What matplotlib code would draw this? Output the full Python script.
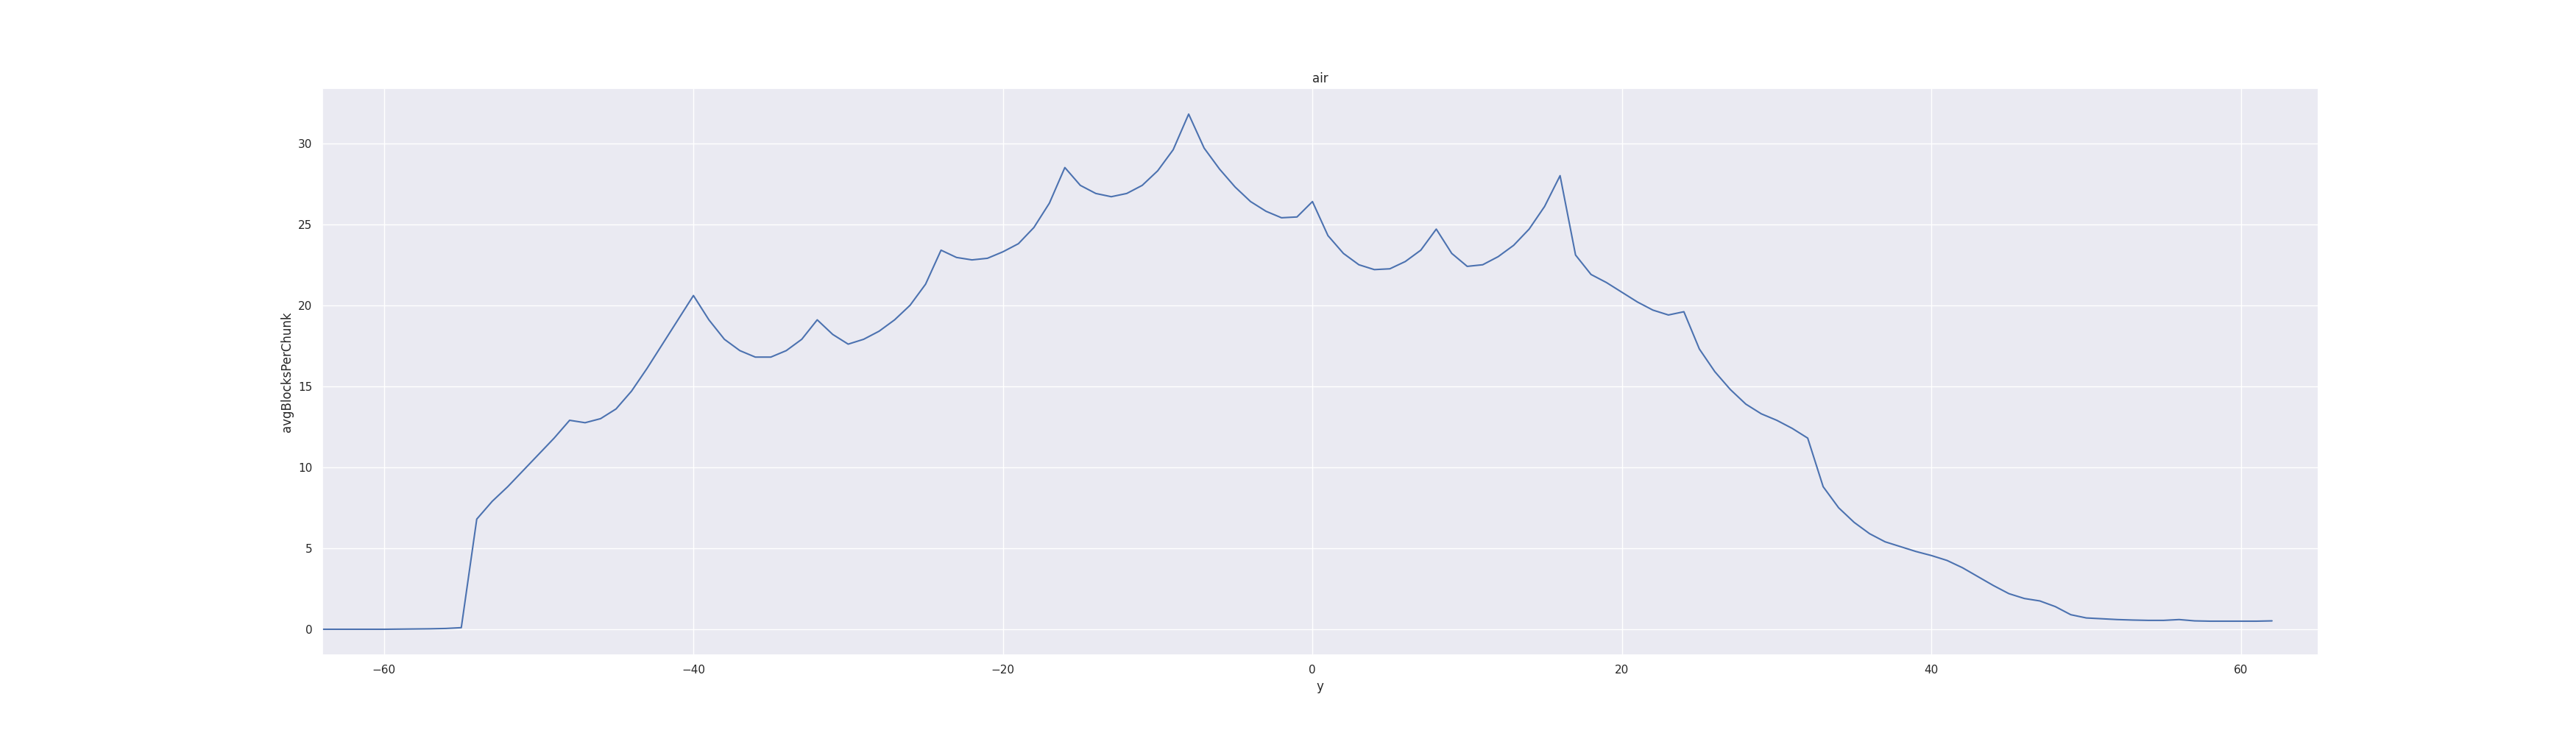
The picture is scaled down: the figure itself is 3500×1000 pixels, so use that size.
import numpy as np
import seaborn as sns
from matplotlib import pyplot as plt

sns.set_theme(style="darkgrid")

y = list(range(-64, 63))
avgBlocksPerChunk = [
    0.0, 0.0, 0.0, 0.0, 0.0, 0.01, 0.02, 0.03, 0.05, 0.1,      # -64..-55
    6.8, 7.9, 8.8, 9.8, 10.8, 11.8, 12.9, 12.75, 13.0, 13.6,   # -54..-45
    14.7, 16.1, 17.6, 19.1, 20.6, 19.1, 17.9, 17.2, 16.8, 16.8,  # -44..-35
    17.2, 17.9, 19.1, 18.2, 17.6, 17.9, 18.4, 19.1, 20.0, 21.3,  # -34..-25
    23.4, 22.95, 22.8, 22.9, 23.3, 23.8, 24.8, 26.3, 28.5, 27.4,  # -24..-15
    26.9, 26.7, 26.9, 27.4, 28.3, 29.6, 31.8, 29.7, 28.4, 27.3,  # -14..-5
    26.4, 25.8, 25.4, 25.45, 26.4, 24.3, 23.2, 22.5, 22.2, 22.25,  # -4..5
    22.7, 23.4, 24.7, 23.2, 22.4, 22.5, 23.0, 23.7, 24.7, 26.1,  # 6..15
    28.0, 23.1, 21.9, 21.4, 20.8, 20.2, 19.7, 19.4, 19.6, 17.3,  # 16..25
    15.9, 14.8, 13.9, 13.3, 12.9, 12.4, 11.8, 8.8, 7.5, 6.6,     # 26..35
    5.9, 5.4, 5.1, 4.8, 4.55, 4.25, 3.8, 3.25, 2.7, 2.2,         # 36..45
    1.9, 1.75, 1.4, 0.9, 0.7, 0.65, 0.6, 0.57, 0.55, 0.55,       # 46..55
    0.6, 0.52, 0.5, 0.5, 0.5, 0.5, 0.52,                         # 56..62
]

fig, ax = plt.subplots(figsize=(35, 10), dpi=100)
ax.plot(y, avgBlocksPerChunk, linewidth=1.5)
ax.set_xlim(-64, 65)
ax.set_title("air")
ax.set_xlabel("y")
ax.set_ylabel("avgBlocksPerChunk")
plt.savefig("out.png")
